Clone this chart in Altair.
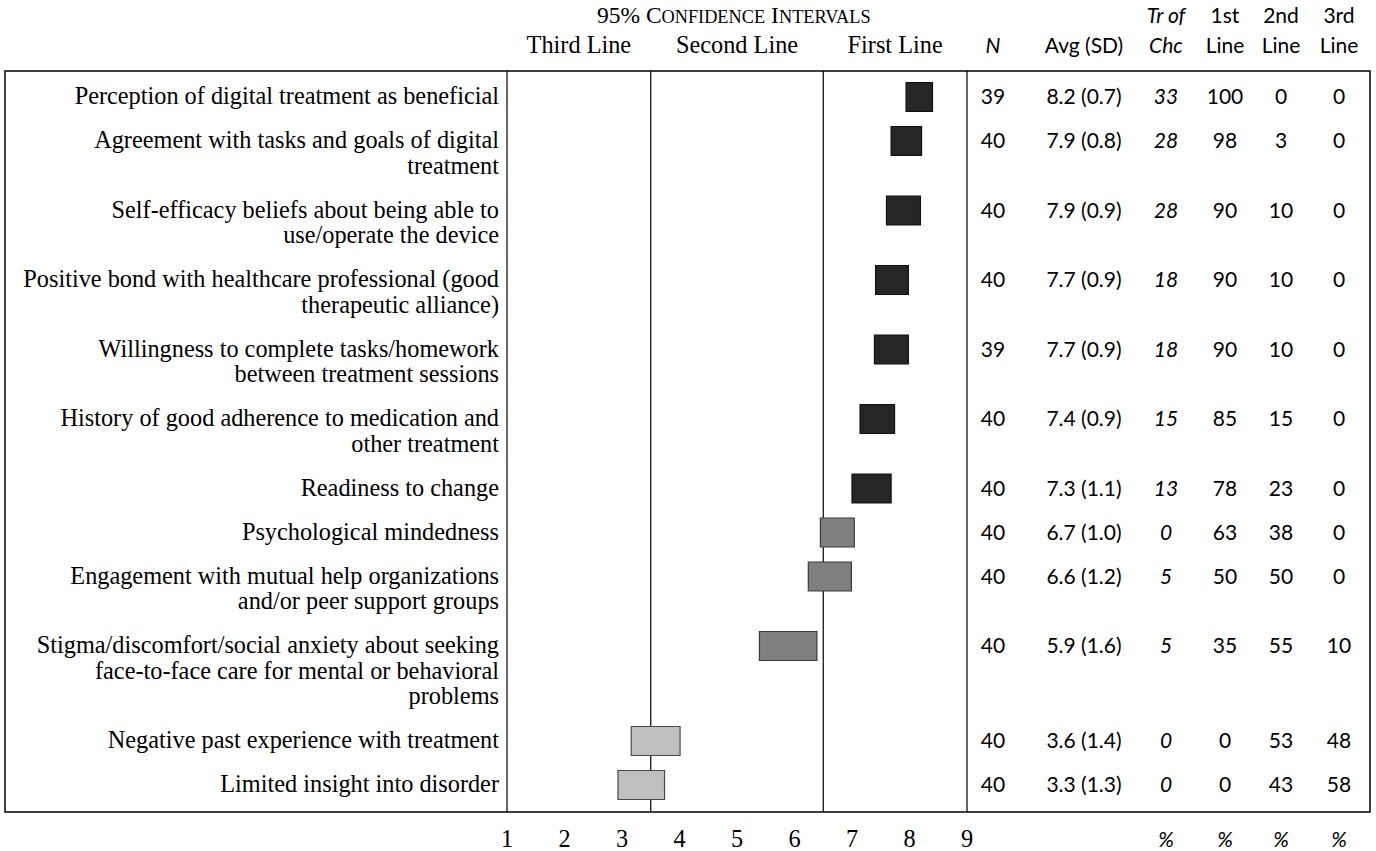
import altair as alt
import pandas as pd

# ---- table content -------------------------------------------------------
factors = [
    "Perception of digital treatment as beneficial",
    "Agreement with tasks and goals of digital\ntreatment",
    "Self-efficacy beliefs about being able to\nuse/operate the device",
    "Positive bond with healthcare professional (good\ntherapeutic alliance)",
    "Willingness to complete tasks/homework\nbetween treatment sessions",
    "History of good adherence to medication and\nother treatment",
    "Readiness to change",
    "Psychological mindedness",
    "Engagement with mutual help organizations\nand/or peer support groups",
    "Stigma/discomfort/social anxiety about seeking\nface-to-face care for mental or behavioral\nproblems",
    "Negative past experience with treatment",
    "Limited insight into disorder",
]
n_resp = [39, 40, 40, 40, 39, 40, 40, 40, 40, 40, 40, 40]
avg = [8.2, 7.9, 7.9, 7.7, 7.7, 7.4, 7.3, 6.7, 6.6, 5.9, 3.6, 3.3]
sd = [0.7, 0.8, 0.9, 0.9, 0.9, 0.9, 1.1, 1.0, 1.2, 1.6, 1.4, 1.3]
treatment_of_choice = [33, 28, 28, 18, 18, 15, 13, 0, 5, 5, 0, 0]
first_line_pct = [100, 98, 90, 90, 90, 85, 78, 63, 50, 35, 0, 0]
second_line_pct = [0, 3, 10, 10, 10, 15, 23, 38, 50, 55, 53, 43]
third_line_pct = [0, 0, 0, 0, 0, 0, 0, 0, 0, 10, 48, 58]
ci_low = [7.94, 7.68, 7.60, 7.41, 7.39, 7.14, 7.00, 6.45, 6.24, 5.39, 3.16, 2.93]
ci_high = [8.40, 8.21, 8.19, 7.98, 7.98, 7.74, 7.68, 7.04, 6.99, 6.39, 4.01, 3.74]
rating_tier = ["First"] * 7 + ["Second"] * 3 + ["Third"] * 2

scale_ticks = [1, 2, 3, 4, 5, 6, 7, 8, 9]
tier_boundaries = [1, 3.5, 6.5, 9]
tier_names = ["First", "Second", "Third"]
tier_fill = ["#262626", "#7f7f7f", "#bfbfbf"]
tier_stroke = ["#111111", "#3c3c3c", "#4a4a4a"]

# ---- page layout ---------------------------------------------------------
W, H = 1376, 851
SERIF = "Liberation Serif, Times New Roman, serif"
SANS = "Lato, Carlito, Calibri, sans-serif"
SERIF_SIZE = 24.3
SANS_SIZE = 21

FIRST_ROW = 97        # centre of the first text line of row 1
LINE_STEP = 25.5      # distance between wrapped lines
ROW_PAD = 18.5        # extra gap between table rows
BOX_HALF = 14.5       # half height of a CI box
TABLE_TOP = 71
TABLE_LEFT, TABLE_RIGHT = 5, 1370
LABEL_RIGHT = 499
HEAD1_Y, HEAD2_Y = 16, 46
TICK_Y = 840

COL_X = {"n": 993, "avg": 1084, "toc": 1166, "p1": 1225, "p2": 1281, "p3": 1339}

row_y = []
pos = FIRST_ROW
for label in factors:
    row_y.append(pos)
    pos += ROW_PAD + LINE_STEP * len(label.split("\n"))
TABLE_BOTTOM = row_y[-1] + 27

rows = pd.DataFrame({
    "factor": factors,
    "n": [str(v) for v in n_resp],
    "avg_sd": [f"{a:.1f} ({s:.1f})" for a, s in zip(avg, sd)],
    "toc": [str(v) for v in treatment_of_choice],
    "p1": [str(v) for v in first_line_pct],
    "p2": [str(v) for v in second_line_pct],
    "p3": [str(v) for v in third_line_pct],
    "ci_low": ci_low,
    "ci_high": ci_high,
    "tier": rating_tier,
    "row_y": row_y,
    "box_top": [y - BOX_HALF for y in row_y],
    "box_bottom": [y + BOX_HALF for y in row_y],
})

ci_scale = alt.Scale(domain=[1, 9], range=[507, 967], zero=False, nice=False)
y_scale = alt.Scale(domain=[0, H], range=[0, H], zero=False, nice=False)
one = pd.DataFrame({"k": [0]})

layers = []

# outer table frame
layers.append(
    alt.Chart(one).mark_rect(fillOpacity=0, stroke="black", strokeWidth=1.5).encode(
        x=alt.value(TABLE_LEFT), x2=alt.value(TABLE_RIGHT),
        y=alt.value(TABLE_TOP), y2=alt.value(TABLE_BOTTOM),
    )
)

# vertical separators: label column edge, tier cut points, right edge of CI panel
layers.append(
    alt.Chart(pd.DataFrame({"v": tier_boundaries})).mark_rule(color="black", strokeWidth=1.2).encode(
        x=alt.X("v:Q", scale=ci_scale, axis=None),
        y=alt.value(TABLE_TOP), y2=alt.value(TABLE_BOTTOM),
    )
)

# confidence-interval boxes
layers.append(
    alt.Chart(rows).mark_rect(strokeWidth=1.2).encode(
        x=alt.X("ci_low:Q", scale=ci_scale, axis=None),
        x2="ci_high:Q",
        y=alt.Y("box_top:Q", scale=y_scale, axis=None),
        y2="box_bottom:Q",
        fill=alt.Fill("tier:N", scale=alt.Scale(domain=tier_names, range=tier_fill), legend=None),
        stroke=alt.Stroke("tier:N", scale=alt.Scale(domain=tier_names, range=tier_stroke), legend=None),
    )
)

# row labels
layers.append(
    alt.Chart(rows).mark_text(
        align="right", baseline="alphabetic", dy=7, font=SERIF, fontSize=SERIF_SIZE,
        lineBreak="\n", lineHeight=LINE_STEP, color="black",
    ).encode(
        x=alt.value(LABEL_RIGHT),
        y=alt.Y("row_y:Q", scale=y_scale, axis=None),
        text="factor:N",
    )
)

# numeric columns
for key in ["n", "avg", "toc", "p1", "p2", "p3"]:
    field = "avg_sd" if key == "avg" else key
    layers.append(
        alt.Chart(rows).mark_text(
            align="center", baseline="alphabetic", dy=7, font=SANS, fontSize=SANS_SIZE,
            fontStyle="italic" if key == "toc" else "normal", color="black",
        ).encode(
            x=alt.value(COL_X[key]),
            y=alt.Y("row_y:Q", scale=y_scale, axis=None),
            text=f"{field}:N",
        )
    )

# scale tick labels under the CI panel
layers.append(
    alt.Chart(pd.DataFrame({"t": scale_ticks})).mark_text(
        baseline="alphabetic", dy=7, font=SERIF, fontSize=SERIF_SIZE, color="black",
    ).encode(
        x=alt.X("t:Q", scale=ci_scale, axis=None),
        y=alt.value(TICK_Y),
        text="t:Q",
    )
)

def label(text, x, y, font, size, align="center", style="normal"):
    return alt.Chart(one).mark_text(
        text=text, align=align, baseline="alphabetic", dy=7, font=font,
        fontSize=size, fontStyle=style, color="black",
    ).encode(x=alt.value(x), y=alt.value(y))

def tier_heading(text, v):
    return alt.Chart(pd.DataFrame({"v": [v]})).mark_text(
        text=text, baseline="alphabetic", dy=7, font=SERIF, fontSize=SERIF_SIZE, color="black",
    ).encode(x=alt.X("v:Q", scale=ci_scale, axis=None), y=alt.value(HEAD2_Y))

# panel title set in small capitals
layers += [
    label("95% C", 597, HEAD1_Y, SERIF, 23.5, align="left"),
    label("ONFIDENCE", 661.5, HEAD1_Y, SERIF, 18.3, align="left"),
    label("I", 771, HEAD1_Y, SERIF, 23.5, align="left"),
    label("NTERVALS", 779, HEAD1_Y, SERIF, 18.3, align="left"),
]
layers += [
    tier_heading("Third Line", 2.25),
    tier_heading("Second Line", 5.0),
    tier_heading("First Line", 7.75),
]

# column headings
layers += [
    label("N", COL_X["n"], HEAD2_Y, SANS, SANS_SIZE, style="italic"),
    label("Avg (SD)", COL_X["avg"], HEAD2_Y, SANS, SANS_SIZE),
    label("Tr of", COL_X["toc"], HEAD1_Y, SANS, SANS_SIZE, style="italic"),
    label("Chc", COL_X["toc"], HEAD2_Y, SANS, SANS_SIZE, style="italic"),
    label("1st", COL_X["p1"], HEAD1_Y, SANS, SANS_SIZE),
    label("Line", COL_X["p1"], HEAD2_Y, SANS, SANS_SIZE),
    label("2nd", COL_X["p2"], HEAD1_Y, SANS, SANS_SIZE),
    label("Line", COL_X["p2"], HEAD2_Y, SANS, SANS_SIZE),
    label("3rd", COL_X["p3"], HEAD1_Y, SANS, SANS_SIZE),
    label("Line", COL_X["p3"], HEAD2_Y, SANS, SANS_SIZE),
]
# percent markers under the share columns
for key in ["toc", "p1", "p2", "p3"]:
    layers.append(label("%", COL_X[key], TICK_Y, SANS, SANS_SIZE, style="italic"))

chart = alt.layer(*layers).properties(
    width=W, height=H, padding=0,
    autosize=alt.AutoSizeParams(type="none"),
    background="white",
).configure_view(strokeWidth=0)

chart.save("out.html", embed_options={"renderer": "svg", "actions": False})
